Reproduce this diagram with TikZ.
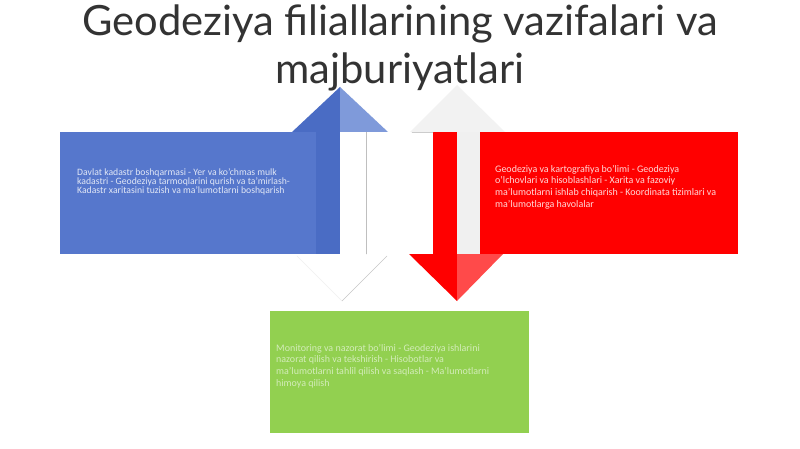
\documentclass[tikz,border=0pt]{standalone}
\usepackage{fontspec}
\setmainfont{Carlito}
\newfontfamily\titlefont{Lato}
\definecolor{kadblue}{HTML}{5677CC}
\definecolor{kadbluedark}{HTML}{4A6CC4}
\definecolor{kadbluelight}{HTML}{7F9ADA}
\definecolor{geored}{HTML}{FF0000}
\definecolor{georedlight}{HTML}{FF4A4A}
\definecolor{nazgreen}{HTML}{92D050}
\definecolor{fadegray}{HTML}{F2F2F2}
\definecolor{titlegray}{HTML}{333333}
\tikzset{
  boxtext/.style={anchor=north west,inner sep=0pt,align=left,font=\fontsize{10}{11.7}\selectfont},
  panel/.style={minimum height=122pt,anchor=north west,inner sep=0pt},
}
\begin{document}
\begin{tikzpicture}[x=1pt,y=-1pt,line join=round,line cap=round]
 \useasboundingbox (0,0) rectangle (800,449);
 \fill[white] (0,0) rectangle (800,449);
 % faded heads
 \fill[white] (297,256)--(342,301)--(387,256)--cycle;
 \draw[gray!12] (297,256)--(342,301);
 \draw[gray!45] (342,301)--(387,256);
 \fill[fadegray] (410,132)--(457,85)--(505,132)--cycle;
 % boxes
 \node[panel,fill=kadblue,minimum width=256pt] (kadastr) at (60,132) {};
 \node[panel,fill=geored,minimum width=258pt] (kartografiya) at (480,132) {};
 \node[panel,fill=nazgreen,minimum width=259pt] (nazorat) at (270,311) {};
 % blue up arrow
 \fill[kadbluedark] (316,132) rectangle (340,254);
 \fill[white] (340,132) rectangle (366,254);
 \draw[gray!50] (366,132)--(366,254);
 \fill[kadbluedark] (292,132)--(340,87)--(340,132)--cycle;
 \fill[kadbluelight] (340,87)--(388,132)--(340,132)--cycle;
 % red down arrow
 \fill[geored] (433,132) rectangle (457,254);
 \fill[gray!12] (457,132) rectangle (480,254);
 \draw[gray!40] (412,132)--(433,132);
 \fill[geored] (409,254)--(457,301)--(457,254)--cycle;
 \fill[georedlight] (457,301)--(503,254)--(457,254)--cycle;
 % texts
 \node[boxtext,text=white!82!kadblue,font=\fontsize{9.7}{9.3}\selectfont] (kadastrtxt) at (77,168) {Davlat kadastr boshqarmasi - Yer va ko'chmas mulk\\kadastri - Geodeziya tarmoqlarini qurish va ta'mirlash-\\Kadastr xaritasini tuzish va ma'lumotlarni boshqarish};
 \node[boxtext,text=white!85!geored] (kartografiyatxt) at (495,165) {Geodeziya va kartografiya bo'limi - Geodeziya\\o'lchovlari va hisoblashlari - Xarita va fazoviy\\ma'lumotlarni ishlab chiqarish - Koordinata tizimlari va\\ma'lumotlarga havolalar};
 \node[boxtext,text=white!60!nazgreen] (nazorattxt) at (276,344) {Monitoring va nazorat bo'limi - Geodeziya ishlarini\\nazorat qilish va tekshirish - Hisobotlar va\\ma'lumotlarni tahlil qilish va saqlash - Ma'lumotlarni\\himoya qilish};
 % title
 \node[font=\titlefont\fontsize{41.7}{48}\selectfont,align=center,text=titlegray,inner sep=0pt] (title) at (400,48) {Geodeziya filiallarining vazifalari va\\majburiyatlari};
\end{tikzpicture}
\end{document}
